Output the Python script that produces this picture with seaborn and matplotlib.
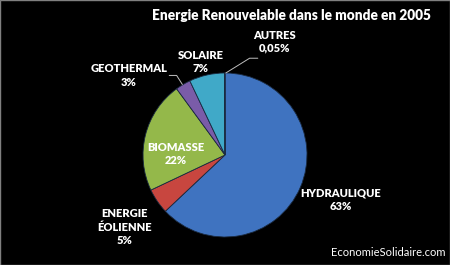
import matplotlib
matplotlib.use("Agg")
import matplotlib.pyplot as plt
import seaborn as sns
import numpy as np

sns.set_theme(style="white")
plt.rcParams['font.family'] = ['Lato', 'DejaVu Sans']

# Data
categories = ["HYDRAULIQUE", "ENERGIE\nÉOLIENNE", "BIOMASSE", "GEOTHERMAL", "SOLAIRE", "AUTRES"]
shares = [63, 5, 22, 3, 7, 0.05]
pct_labels = ["63%", "5%", "22%", "3%", "7%", "0,05%"]
colors = ["#3F73C0", "#C8463F", "#94B84A", "#7A5CA8", "#40A9C8", "#F79646"]
title = "Energie Renouvelable dans le monde en 2005"
credit = "EconomieSolidaire.com"

fig = plt.figure(figsize=(4.5, 2.65), dpi=100, facecolor="black")
ax = fig.add_axes([0.3178, 0.1057, 0.3644, 0.6189])
ax.set_facecolor("black")

wedges, _ = ax.pie(shares, colors=colors, startangle=90, counterclock=False,
                   radius=1.0, wedgeprops=dict(edgecolor="#1a2a40", linewidth=0.6))
ax.set_xlim(-1, 1)
ax.set_ylim(-1, 1)
ax.set_aspect("auto")
ax.axis("off")

# label layout (data units of pie; radius = 1)
label_pos = {
    "HYDRAULIQUE": (1.41, -0.55),
    "ENERGIE\nÉOLIENNE": (-1.22, -0.88),
    "BIOMASSE": (-0.60, 0.01),
    "GEOTHERMAL": (-1.17, 0.97),
    "SOLAIRE": (-0.30, 1.13),
    "AUTRES": (0.60, 1.38),
}
fs = 8.0
for cat, pct in zip(categories, pct_labels):
    x, y = label_pos[cat]
    ax.text(x, y, f"{cat}\n{pct}", ha="center", va="center", color="white",
            fontsize=fs, fontweight="heavy", linespacing=1.25, clip_on=False)

# leader lines
ax.plot([-0.68, -0.59, -0.52], [0.97, 0.97, 0.86], color="#bfbfbf", lw=0.7, clip_on=False)
ax.plot([0.01, 0.30, 0.40], [1.0, 1.18, 1.18], color="#bfbfbf", lw=0.7, clip_on=False)

fig.text(291.5 / 450, 1 - 16 / 265, title, ha="center", va="center", color="white",
         fontsize=9.8, fontweight="heavy")
fig.text(446 / 450, 1 - 253 / 265, credit, ha="right", va="center", color="white",
         fontsize=8.0)

border = plt.Rectangle((0, 0), 1, 1, transform=fig.transFigure, fill=False,
                       edgecolor="#808080", linewidth=1.0)
fig.add_artist(border)

fig.savefig("out.png", dpi=100, facecolor="black")
